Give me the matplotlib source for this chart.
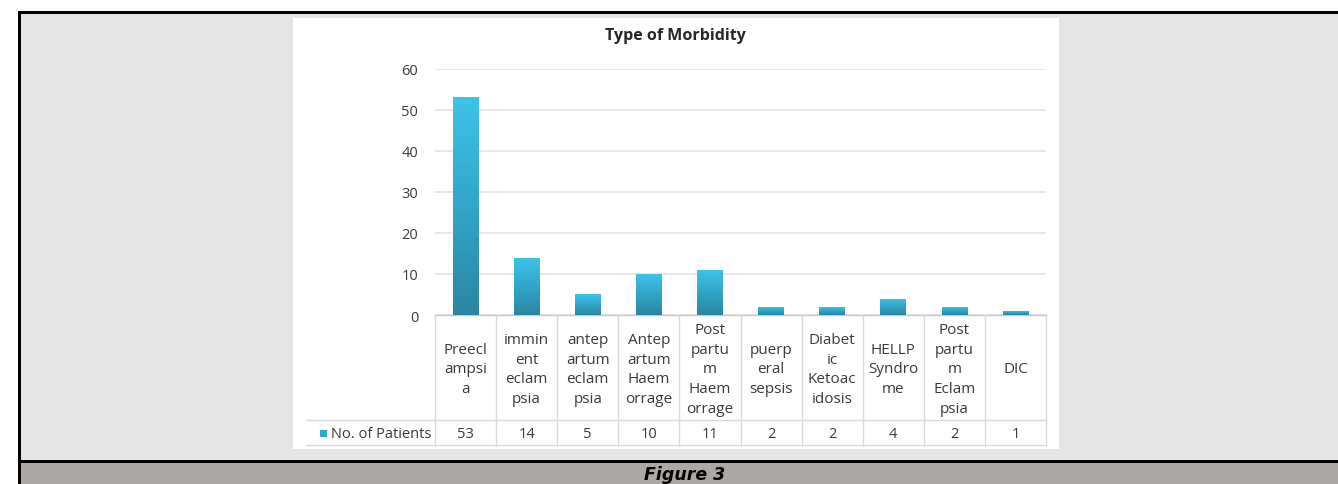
import numpy as np
import matplotlib
matplotlib.use("Agg")
import matplotlib.pyplot as plt
from matplotlib.patches import Rectangle
from matplotlib.colors import LinearSegmentedColormap

# morbidity counts
categories = ["Preecl\nampsi\na", "immin\nent\neclam\npsia", "antep\nartum\neclam\npsia",
              "Antep\nartum\nHaem\norrage", "Post\npartu\nm\nHaem\norrage", "puerp\neral\nsepsis",
              "Diabet\nic\nKetoac\nidosis", "HELLP\nSyndro\nme", "Post\npartu\nm\nEclam\npsia", "DIC"]
patients = [53, 14, 5, 10, 11, 2, 2, 4, 2, 1]
series_name = "No. of Patients"
yticks = [0, 10, 20, 30, 40, 50, 60]

FONT = "Open Sans"
TXT = "#3a3a3a"

W, H = 1338, 485
fig = plt.figure(figsize=(W / 100, H / 100), dpi=100)
fig.patch.set_facecolor("white")

# page frame drawn in pixel units
bg = fig.add_axes([0, 0, 1, 1], zorder=0)
bg.set_xlim(0, W)
bg.set_ylim(H, 0)
bg.axis("off")
bg.add_patch(Rectangle((20, 14), W - 20, 447, facecolor="#e5e5e5", edgecolor="none"))
bg.add_patch(Rectangle((18, 12), W - 18, 2.5, facecolor="black", edgecolor="none"))
bg.add_patch(Rectangle((18, 12), 2.5, 473, facecolor="black", edgecolor="none"))
bg.add_patch(Rectangle((20, 461), W - 20, 2.5, facecolor="black", edgecolor="none"))
bg.add_patch(Rectangle((20.5, 463.5), W - 20.5, 22, facecolor="#aca8a6", edgecolor="none"))
bg.add_patch(Rectangle((293, 19), 766, 431, facecolor="white", edgecolor="none"))
bg.text(685, 475, "Figure 3", ha="center", va="center", fontsize=12.5,
        fontweight="bold", fontstyle="italic", family="DejaVu Sans", color="black")
bg.text(675, 36, "Type of Morbidity", ha="center", va="center", fontsize=11.5,
        fontweight="bold", family=FONT, color="#262626")

# bar chart
ax_l, ax_r, ax_t, ax_b = 435, 1046, 69.6, 316
ax = fig.add_axes([ax_l / W, 1 - ax_b / H, (ax_r - ax_l) / W, (ax_b - ax_t) / H], zorder=2)
ax.patch.set_alpha(0)
x = np.arange(len(categories))
bw = 0.42
bars = ax.bar(x, patients, width=bw, color="none", edgecolor="none", zorder=3)

cmap = LinearSegmentedColormap.from_list("bar", ["#2a86a2", "#31a6c8", "#3dc3ea"])
grad = np.linspace(0, 1, 100).reshape(-1, 1)
for b in bars:
    x0, h = b.get_x(), b.get_height()
    im = ax.imshow(grad, cmap=cmap, origin="lower", aspect="auto", zorder=3,
                   extent=[x0, x0 + bw, 0, h])
    im.set_clip_path(b)

ax.set_xlim(-0.5, len(categories) - 0.5)
ax.set_ylim(0, 60)
ax.set_yticks(yticks)
ax.set_yticklabels([str(t) for t in yticks], family=FONT, fontsize=10.5, color=TXT)
ax.tick_params(axis="y", length=0, pad=12)
ax.set_xticks([])
ax.grid(axis="y", color="#e3e3e3", linewidth=1.2, zorder=0)
for s in ["left", "right", "top"]:
    ax.spines[s].set_visible(False)
ax.spines["bottom"].set_color("#c8c8c8")
ax.spines["bottom"].set_linewidth(1)

# data table under the bars, y measured in pixels from the category axis
tb = fig.add_axes([ax_l / W, 1 - 447 / H, (ax_r - ax_l) / W, (447 - ax_b) / H], zorder=2)
tb.patch.set_alpha(0)
tb.set_xlim(-0.5, len(categories) - 0.5)
tb.set_ylim(131, 0)
tb.axis("off")
col_px = (ax_r - ax_l) / len(categories)
line_kw = dict(color="#d9d9d9", linewidth=1, clip_on=False)
for k in range(len(categories) + 1):
    tb.plot([k - 0.5, k - 0.5], [0, 131], **line_kw)
left_edge = (306 - ax_l) / col_px - 0.5
tb.plot([left_edge, len(categories) - 0.5], [105, 105], **line_kw)
tb.plot([left_edge, len(categories) - 0.5], [130, 130], **line_kw)

for i, (c, v) in enumerate(zip(categories, patients)):
    tb.text(i, 54, c, ha="center", va="center", fontsize=11, family=FONT,
            color=TXT, linespacing=1.42, clip_on=False)
    tb.text(i, 118.5, str(v), ha="center", va="center", fontsize=10.5, family=FONT,
            color=TXT, clip_on=False)

key_x = (320 - ax_l) / col_px - 0.5
tb.add_patch(Rectangle((key_x, 115), 7 / col_px, 7, facecolor="#31a6c8",
                       edgecolor="none", clip_on=False))
tb.text((331 - ax_l) / col_px - 0.5, 118.5, series_name, ha="left", va="center",
        fontsize=10.5, family=FONT, color=TXT, clip_on=False)

fig.savefig("out.png", dpi=100)
